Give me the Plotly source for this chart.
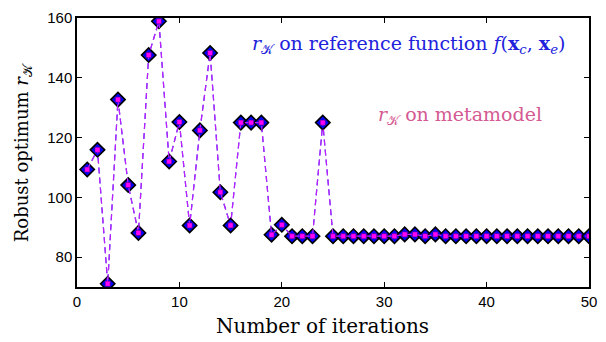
import plotly.graph_objects as go

iterations = list(range(1, 51))
r_reference = [109.3, 115.9, 71.1, 132.7, 104.1, 88.1, 147.6, 158.9, 112.0, 125.2,
               90.6, 122.4, 148.3, 101.7, 90.6, 125.0, 125.0, 125.0, 87.5, 90.8,
               87.0, 87.0, 87.0, 125.0, 87.0, 87.0, 87.0, 87.0, 87.0, 87.0,
               87.0, 87.6, 87.6, 87.0, 87.6, 87.0, 87.0, 87.0, 87.0, 87.0,
               87.0, 87.0, 87.0, 87.0, 87.0, 87.0, 87.0, 87.0, 87.0, 87.0]
r_metamodel = list(r_reference)

x_ticks = [0, 10, 20, 30, 40, 50]
y_ticks = [80, 100, 120, 140, 160]

fig = go.Figure()
fig.add_trace(go.Scatter(
    x=iterations, y=r_reference, mode="lines+markers",
    line=dict(color="#3030ff", width=1.2, dash="6px,4px"),
    marker=dict(symbol="diamond", size=11, color="#0000ff",
                line=dict(color="black", width=1.6)),
    showlegend=False))
fig.add_trace(go.Scatter(
    x=iterations, y=r_metamodel, mode="lines+markers",
    line=dict(color="#c020ff", width=1.2, dash="6px,4px"),
    marker=dict(symbol="square", size=5, color="#ff00ff",
                line=dict(color="#600060", width=0.5)),
    showlegend=False))

serif = "DejaVu Serif"
fig.add_annotation(
    x=0.958, y=0.9, xref="paper", yref="paper", xanchor="right", yanchor="middle",
    text="<i>r</i><sub>𝒦</sub> on reference function <i>f</i>(<b>x</b><sub><i>c</i></sub>, <b>x</b><sub><i>e</i></sub>)",
    showarrow=False, font=dict(family=serif, size=19, color="#2222dd"))
fig.add_annotation(
    x=0.913, y=0.638, xref="paper", yref="paper", xanchor="right", yanchor="middle",
    text="<i>r</i><sub>𝒦</sub> on metamodel",
    showarrow=False, font=dict(family=serif, size=19, color="#d45a93"))
fig.add_annotation(
    x=0.479, y=-0.144, xref="paper", yref="paper", xanchor="center", yanchor="middle",
    text="Number of iterations", showarrow=False,
    font=dict(family=serif, size=20, color="black"))
fig.add_annotation(
    x=-0.106, y=0.5, xref="paper", yref="paper", xanchor="center", yanchor="middle",
    text="Robust optimum <i>r</i><sub>𝒦</sub>", textangle=-90, showarrow=False,
    font=dict(family=serif, size=18, color="black"))

axis_common = dict(showline=True, linecolor="black", linewidth=1.5, mirror="ticks",
                   ticks="inside", ticklen=5, tickcolor="black", tickwidth=1,
                   showgrid=False, zeroline=False,
                   tickfont=dict(family="Liberation Sans", size=15, color="black"))
fig.update_xaxes(range=[0, 50], tickvals=x_ticks, **axis_common)
fig.update_yaxes(range=[70, 160], tickvals=y_ticks, **axis_common)
fig.update_layout(width=606, height=342, margin=dict(l=77, r=9, t=16, b=55),
                  plot_bgcolor="white", paper_bgcolor="white")
fig.write_html("out.html", config={"displayModeBar": False},
               post_script="document.body.style.margin='0';document.body.style.overflow='hidden';")
